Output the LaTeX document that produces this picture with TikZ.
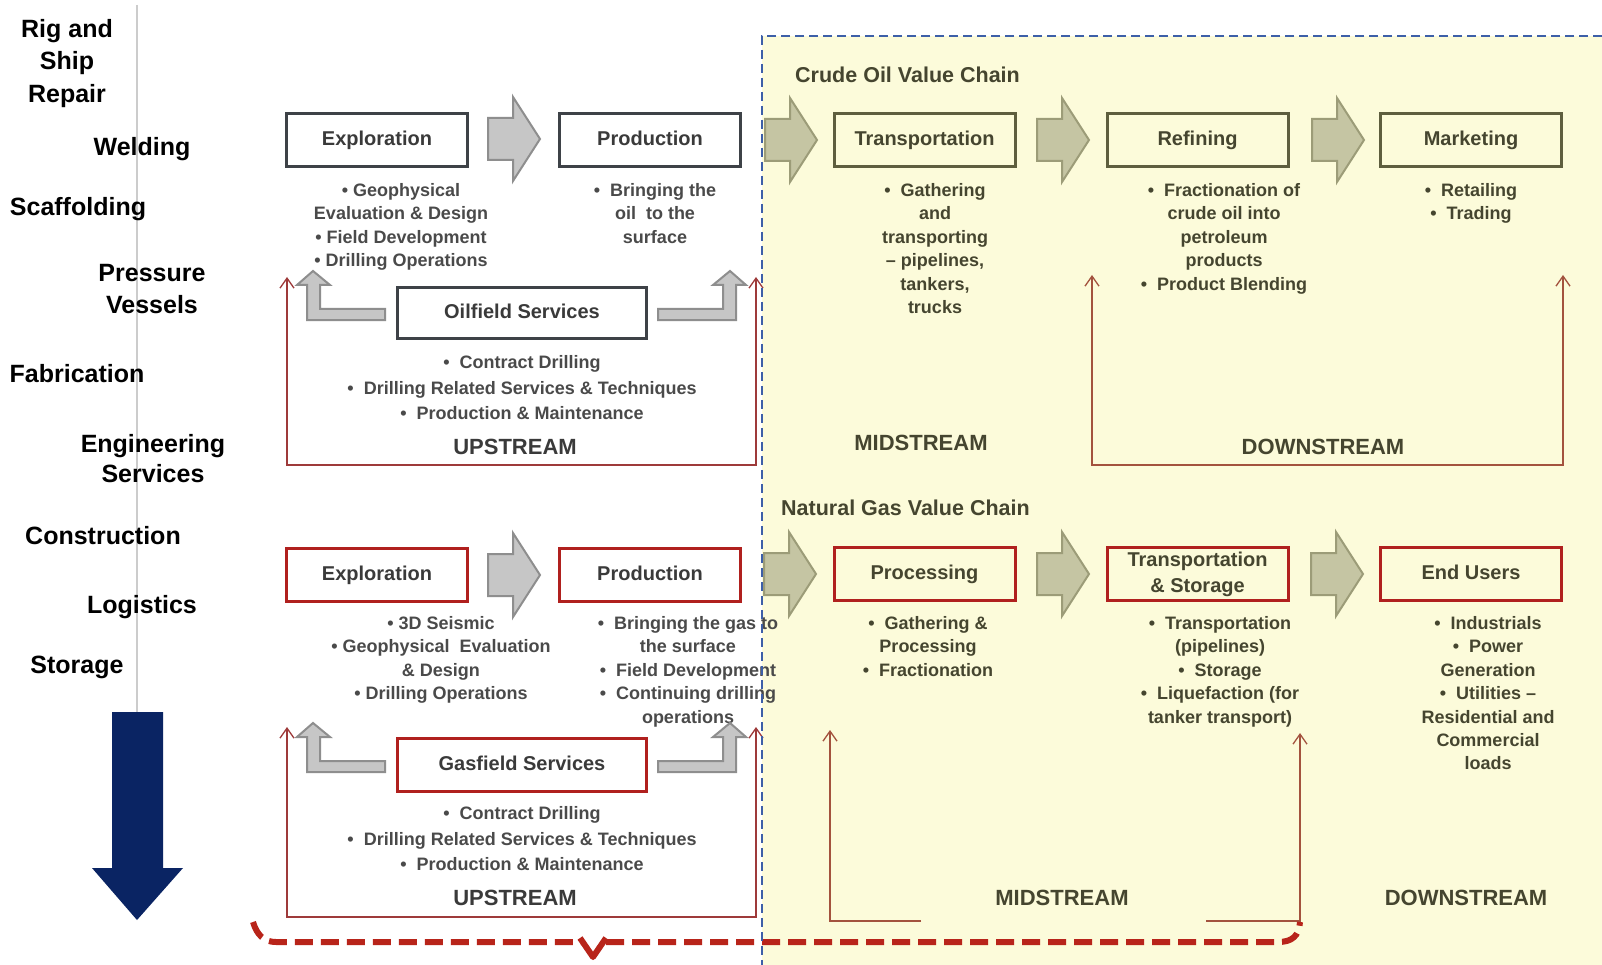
\documentclass[tikz,border=0pt]{standalone}
\usepackage{fontspec}
\setmainfont{Liberation Sans}
\usetikzlibrary{arrows.meta}
\definecolor{creamy}{HTML}{FCFBDA}
\definecolor{bluedash}{HTML}{3D5FA8}
\definecolor{boxgray}{HTML}{3E4247}
\definecolor{olivebox}{HTML}{5E5E3E}
\definecolor{redbox}{HTML}{B0201E}
\definecolor{garrfill}{HTML}{C6C6C6}
\definecolor{garrdraw}{HTML}{8E8E8E}
\definecolor{oarrfill}{HTML}{C5C5A3}
\definecolor{oarrdraw}{HTML}{9C9C78}
\definecolor{txtgray}{HTML}{4A4A4A}
\definecolor{titlegray}{HTML}{3A3A3A}
\definecolor{righttxt}{HTML}{45452F}
\definecolor{brkred}{HTML}{9E3A3A}
\definecolor{brkbrown}{HTML}{A3523E}
\definecolor{bracered}{HTML}{B8241A}
\definecolor{navyblue}{HTML}{0A2463}
\definecolor{vline}{HTML}{CCCCCC}
\begin{document}
\begin{tikzpicture}[x=1pt,y=-1pt,
  lbl/.style={font=\fontsize{25}{32.5}\selectfont\bfseries, text=black, align=center, inner sep=0},
  boxbase/.style={line width=3pt, minimum width=181pt, minimum height=53pt, inner sep=0,
     font=\fontsize{20}{26}\selectfont\bfseries, align=center},
  oneline/.style={text height=14.5pt, text depth=4pt},
  oilbox/.style={boxbase, oneline, draw=boxgray, fill=white, text=titlegray},
  olbox/.style={boxbase, oneline, draw=olivebox, fill=creamy, text=righttxt},
  gbox/.style={boxbase, oneline, draw=redbox, fill=white, text=titlegray},
  grbox/.style={boxbase, draw=redbox, fill=creamy, text=righttxt},
  svcbox/.style={minimum width=249pt, minimum height=51pt},
  txt/.style={font=\fontsize{18}{23.4}\selectfont\bfseries, text=txtgray, align=center, inner sep=0, anchor=north},
  rtxt/.style={txt, text=righttxt},
  stream/.style={font=\fontsize{22}{26}\selectfont\bfseries, text=titlegray, inner sep=0},
  chain/.style={font=\fontsize{21.5}{26}\selectfont\bfseries, text=righttxt, inner sep=0, anchor=base west},
  grayarr/.style={fill=garrfill, draw=garrdraw, line width=2pt},
  olivearr/.style={fill=oarrfill, draw=oarrdraw, line width=2pt},
  brk/.style={draw=brkred, line width=1.3pt, {Straight Barb[length=10pt,width=14pt]}-{Straight Barb[length=10pt,width=14pt]}},
  brkone/.style={draw=brkbrown, line width=1.3pt},
  tipa/.style={-{Straight Barb[length=10pt,width=14pt]}},
  rarrow/.pic={\path[pic actions] (-27,-21) -- (-2,-21) -- (-2,-42) -- (25,0) -- (-2,42) -- (-2,21) -- (-27,21) -- cycle;},
  bentarrow/.pic={\path[pic actions] (72,38) -- (7,38) -- (7,14) -- (17,14) -- (0,0) -- (-16,14) -- (-6,14) -- (-6,49) -- (72,49) -- cycle;}
]
\useasboundingbox (0,0) rectangle (1602,965);
\fill[white] (0,0) rectangle (1602,965);
\fill[creamy] (762,36) rectangle (1602,965);

% left column
\draw[vline, line width=1.5pt] (137,5) -- (137,712);
\node[lbl, anchor=north] (rig) at (67,18.7) {Rig and\\Ship\\Repair};
\node[lbl, anchor=base] (weld) at (142,156) {Welding};
\node[lbl, anchor=base] (scaf) at (78,216) {Scaffolding};
\node[lbl, anchor=north, font=\fontsize{25}{32}\selectfont\bfseries] (press) at (152,264) {Pressure\\Vessels};
\node[lbl, anchor=base] (fab) at (77,382) {Fabrication};
\node[lbl, anchor=north, font=\fontsize{25}{30}\selectfont\bfseries] (eng) at (153,434) {Engineering\\Services};
\node[lbl, anchor=base] (cons) at (103,544) {Construction};
\node[lbl, anchor=base] (logi) at (142,613) {Logistics};
\node[lbl, anchor=base] (stor) at (77,673) {Storage};
\fill[navyblue] (112,712) -- (163,712) -- (163,868) -- (183,868) -- (137,920) -- (92,868) -- (112,868) -- cycle;

% ===== crude oil value chain =====
\node[chain] (crude) at (795,82.7) {Crude Oil Value Chain};
\node[oilbox] (oexp) at (377,140) {Exploration};
\node[oilbox] (oprod) at (650,140) {Production};
\node[olbox] (otrans) at (924.5,140) {Transportation};
\node[olbox] (oref) at (1197.5,140) {Refining};
\node[olbox] (omkt) at (1471,140) {Marketing};
\pic[grayarr] at (515,139) {rarrow};
\pic[olivearr] at (792,140) {rarrow};
\pic[olivearr] at (1064,140) {rarrow};
\pic[olivearr] at (1339,140) {rarrow};

\node[txt] (oexpt) at (401,183.3) {• Geophysical\\Evaluation \& Design\\• Field Development\\• Drilling Operations};
\node[txt] (oprodt) at (655,183.3) {•\ \ Bringing the\\oil \ to the\\surface};
\node[rtxt] (otranst) at (935,183.3) {• \ Gathering\\and\\transporting\\– pipelines,\\tankers,\\trucks};
\node[rtxt] (oreft) at (1224,183.3) {• \ Fractionation of\\crude oil into\\petroleum\\products\\• \ Product Blending};
\node[rtxt] (omktt) at (1471,183.3) {• \ Retailing\\• \ Trading};

\node[oilbox, svcbox] (osvc) at (522,313) {Oilfield Services};
\pic[grayarr] at (313,271) {bentarrow};
\pic[grayarr, xscale=-1] at (730,271) {bentarrow};
\node[txt, font=\fontsize{18}{25.5}\selectfont\bfseries] (osvct) at (522,355.3) {•\ \ Contract Drilling\\•\ \ Drilling Related Services \& Techniques\\•\ \ Production \& Maintenance};

\coordinate (uTL) at (287,277);
\coordinate (uBL) at (287,465);
\coordinate (uBR) at (756,465);
\coordinate (uTR) at (756,277);
\draw[brk] (uTL) -- (uBL) -- (uBR) -- (uTR);
\node[stream] (oup) at (515,447) {UPSTREAM};

\coordinate (dTL) at (1092,275);
\coordinate (dBL) at (1092,465);
\coordinate (dBR) at (1563,465);
\coordinate (dTR) at (1563,275);
\draw[brk, draw=brkbrown] (dTL) -- (dBL) -- (dBR) -- (dTR);
\node[stream, text=righttxt] (omid) at (921,443) {MIDSTREAM};
\node[stream, text=righttxt] (odown) at (1323,447) {DOWNSTREAM};

% ===== natural gas value chain =====
\node[chain] (natgas) at (781,515.7) {Natural Gas Value Chain};
\node[gbox] (gexp) at (377,575) {Exploration};
\node[gbox] (gprod) at (650,575) {Production};
\node[grbox, oneline] (gproc) at (924.5,574) {Processing};
\node[grbox] (gts) at (1197.5,574) {Transportation\\\& Storage};
\node[grbox, oneline] (gend) at (1471,574) {End Users};
\pic[grayarr] at (515,575) {rarrow};
\pic[olivearr] at (791,574) {rarrow};
\pic[olivearr] at (1064,574) {rarrow};
\pic[olivearr] at (1338,574) {rarrow};

\node[txt] (gexpt) at (441,616.3) {• 3D Seismic\\• Geophysical \ Evaluation\\\& Design\\• Drilling Operations};
\node[txt] (gprodt) at (688,616.3) {•\ \ Bringing the gas to\\the surface\\•\ \ Field Development\\•\ \ Continuing drilling\\operations};
\node[rtxt] (gproct) at (928,616.3) {• \ Gathering \&\\Processing\\• \ Fractionation};
\node[rtxt] (gtst) at (1220,616.3) {• \ Transportation\\(pipelines)\\• \ Storage\\• \ Liquefaction (for\\tanker transport)};
\node[rtxt] (gendt) at (1488,616.3) {• \ Industrials\\• \ Power\\Generation\\• \ Utilities –\\Residential and\\Commercial\\loads};

\node[gbox, svcbox, minimum height=53pt] (gsvc) at (522,765) {Gasfield Services};
\pic[grayarr] at (313,723) {bentarrow};
\pic[grayarr, xscale=-1] at (730,723) {bentarrow};
\node[txt, font=\fontsize{18}{25.5}\selectfont\bfseries] (gsvct) at (522,806.3) {•\ \ Contract Drilling\\•\ \ Drilling Related Services \& Techniques\\•\ \ Production \& Maintenance};

\coordinate (guTL) at (287,727);
\coordinate (guBL) at (287,917);
\coordinate (guBR) at (756,917);
\coordinate (guTR) at (756,727);
\draw[brk] (guTL) -- (guBL) -- (guBR) -- (guTR);
\node[stream] (gup) at (515,898) {UPSTREAM};

\coordinate (gmTL) at (830,730);
\coordinate (gmBL) at (830,921);
\coordinate (gmBE) at (921,921);
\coordinate (gmBS) at (1206,921);
\coordinate (gmBR) at (1300,921);
\coordinate (gmTR) at (1300,733);
\draw[brkone, tipa] (gmBE) -- (gmBL) -- (gmTL);
\draw[brkone, tipa] (gmBS) -- (gmBR) -- (gmTR);
\node[stream, text=righttxt] (gmid) at (1062,898) {MIDSTREAM};
\node[stream, text=righttxt] (gdown) at (1466,898) {DOWNSTREAM};

% brace
\draw[bracered, line width=6pt, dash pattern=on 18pt off 8pt, line cap=butt]
  (253,922) .. controls (257,935) and (264,942) .. (276,942) -- (583,942);
\draw[bracered, line width=6pt, line join=round] (580,938) -- (593,957) -- (606,938);
\draw[bracered, line width=6pt, dash pattern=on 18pt off 8pt, line cap=butt]
  (606,942) -- (1278,942) .. controls (1292,942) and (1299,936) .. (1300,922);

% blue dashed frame
\draw[bluedash, line width=2.5pt, dash pattern=on 9pt off 5pt] (1602,36) -- (762,36) -- (762,965);
\end{tikzpicture}
\end{document}
